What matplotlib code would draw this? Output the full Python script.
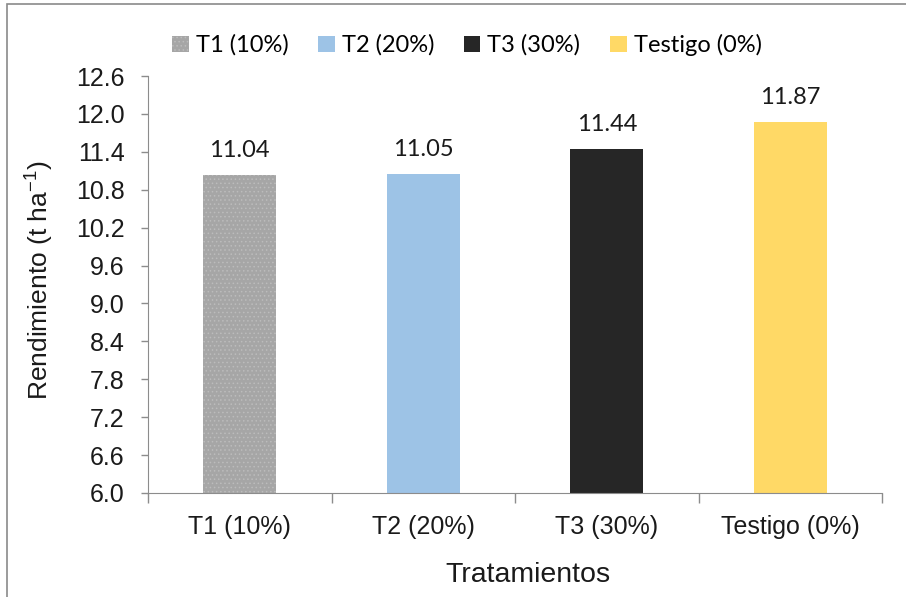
import numpy as np
import matplotlib.pyplot as plt
import matplotlib.ticker as ticker
from matplotlib.patches import Rectangle, Patch

# data
tratamientos = ['T1 (10%)', 'T2 (20%)', 'T3 (30%)', 'Testigo (0%)']
rendimiento = [11.04, 11.05, 11.44, 11.87]
colores = ['#a6a6a6', '#9dc3e6', '#262626', '#ffd966']
tramas = ['....', None, None, None]
trama_color = ['#bcbcbc', '#9dc3e6', '#333333', '#ffd966']

g_axis_color = '#8c8c8c'
g_tick_font = 'Liberation Sans'
g_label_font = 'Lato'

plt.rcParams['hatch.linewidth'] = 0.6
plt.rcParams['mathtext.fontset'] = 'custom'
plt.rcParams['mathtext.rm'] = g_tick_font

fig = plt.figure(figsize=(9.06, 5.97), dpi=100)
ax = fig.add_axes([148 / 906, 1 - 493 / 597, 734 / 906, 417 / 597])

index = np.arange(len(tratamientos))
bars = ax.bar(index, rendimiento, 0.4, color=colores, linewidth=0,
              edgecolor=trama_color, bottom=0)
for b, h in zip(bars, tramas):
    if h:
        b.set_hatch(h)

# value labels on top of each bar
for b, v in zip(bars, rendimiento):
    ax.annotate('%.2f' % v, (b.get_x() + b.get_width() / 2, v),
                xytext=(0, 10), textcoords='offset points',
                ha='center', va='bottom', fontsize=17,
                family=g_label_font, color='#1a1a1a')

ax.set_xlim(-0.5, len(tratamientos) - 0.5)
ax.set_ylim(6.0, 12.6)
ax.yaxis.set_major_locator(ticker.MultipleLocator(0.6))
ax.yaxis.set_major_formatter(ticker.FormatStrFormatter('%.1f'))

ax.set_xticks(index)
ax.set_xticklabels(tratamientos)
ax.set_xticks(np.arange(len(tratamientos) + 1) - 0.5, minor=True)
ax.tick_params(axis='x', which='major', length=0, pad=16)
ax.tick_params(axis='x', which='minor', length=7, color=g_axis_color, width=1)
ax.tick_params(axis='y', which='major', length=5, color=g_axis_color,
               width=1, pad=12)
for lbl in ax.get_xticklabels() + ax.get_yticklabels():
    lbl.set_family(g_tick_font)
    lbl.set_fontsize(18)
    lbl.set_color('#1a1a1a')

ax.spines['top'].set_visible(False)
ax.spines['right'].set_visible(False)
ax.spines['left'].set_color(g_axis_color)
ax.spines['bottom'].set_color(g_axis_color)

ax.set_xlabel('Tratamientos', fontsize=20.5, family=g_tick_font, color='#1a1a1a')
ax.set_ylabel(r'Rendimiento (t ha$\mathregular{^{-1}}$)', fontsize=19,
              family=g_tick_font, color='#1a1a1a')
ax.xaxis.set_label_coords(0.518, -0.165)
ax.yaxis.set_label_coords(-0.125, 0.51)

handles = [Patch(facecolor=c, edgecolor=e, hatch=h, linewidth=0)
           for c, e, h in zip(colores, trama_color, tramas)]
leg = fig.legend(handles, tratamientos, loc='center', ncol=4,
                 bbox_to_anchor=(467 / 906, 1 - 45 / 597), frameon=False,
                 prop={'family': g_label_font, 'size': 17},
                 handlelength=0.7, handleheight=0.7, handletextpad=0.3,
                 columnspacing=1.25)

# chart area border
fig.patches.append(Rectangle((7 / 906, -0.1), 1.2, 1.1 - 4 / 597,
                             transform=fig.transFigure, fill=False,
                             edgecolor='#8a8a8a', linewidth=1.2))

fig.savefig('out.png', dpi=100)
